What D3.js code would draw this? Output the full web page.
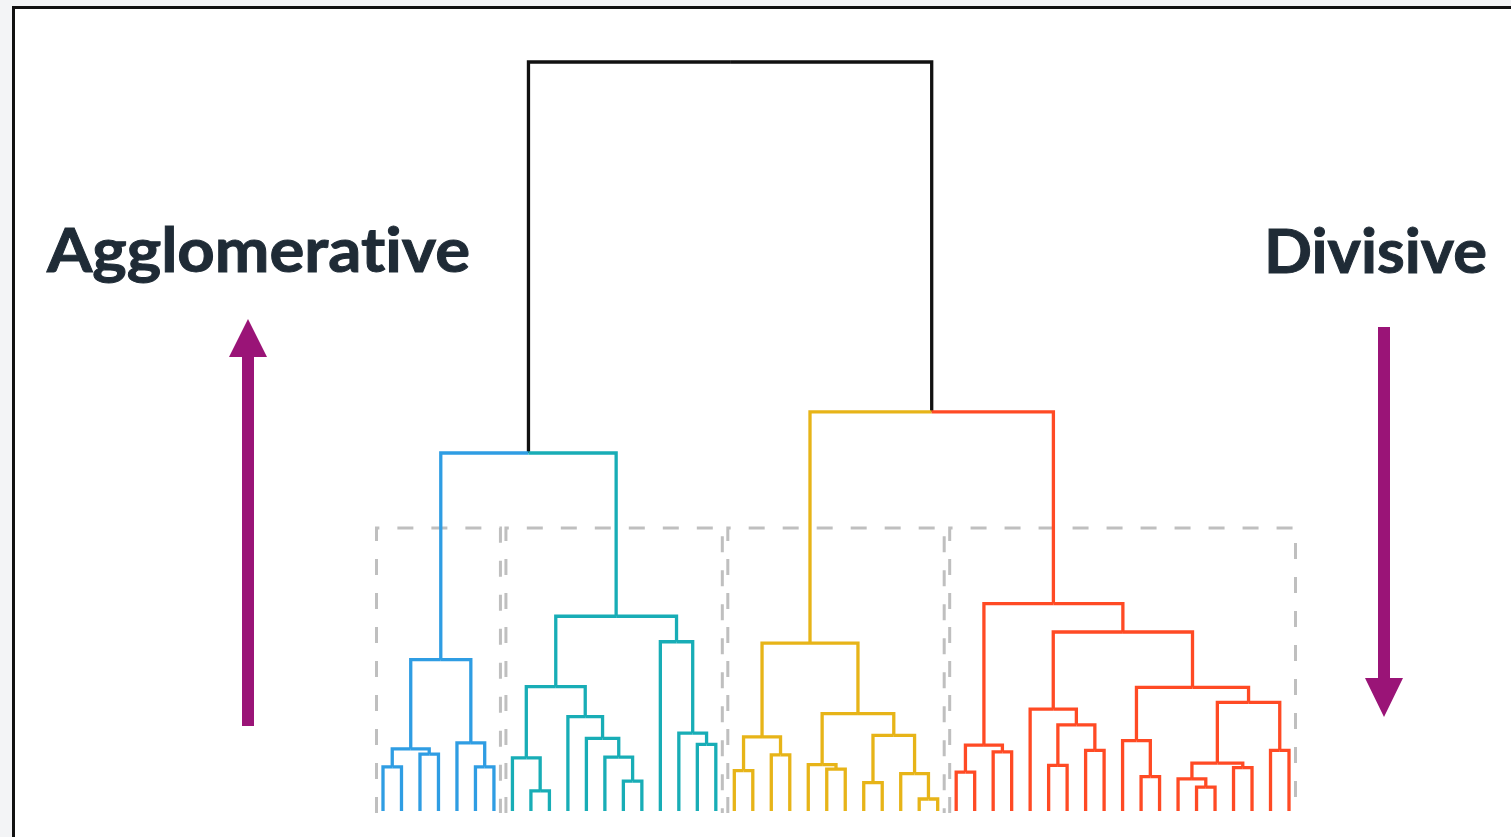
<!DOCTYPE html>
<html>
<head>
<meta charset="utf-8">
<script src="https://cdn.jsdelivr.net/npm/d3@7"></script>
<style>
  html, body { margin: 0; padding: 0; background: #f3f4f6; }
  svg { display: block; }
  text { font-variant-ligatures: none; font-feature-settings: "liga" 0; }
</style>
</head>
<body>
<div id="chart"></div>
<script>
// ---- data -------------------------------------------------------------
// merge node = [height, left, right]; leaf = leaf index (left to right)
var leafCount = 50;

var blueTree = [20.2, [8.3, [5.9, 0, 1], [7.6, 2, 3]], [9.1, 4, [5.9, 5, 6]]];
var tealTree = [26.0,
  [16.6, [7.1, 7, [2.7, 8, 9]], [12.6, 10, [9.7, 11, [7.2, 12, [4.0, 13, 14]]]]],
  [22.6, 15, [10.4, 16, [8.9, 17, 18]]]];
var yellowTree = [22.4,
  [9.9, [5.4, 19, 20], [7.5, 21, 22]],
  [13.0, [6.2, 23, [5.6, 24, 25]], [10.1, [3.8, 26, 27], [5.0, 28, [1.6, 29, 30]]]]];
var redTree = [27.7,
  [8.8, [5.2, 31, 32], [7.9, 33, 34]],
  [23.9,
    [13.6, 35, [11.5, [6.1, 36, 37], [8.1, 38, 39]]],
    [16.5, [9.4, 40, [4.6, 41, 42]],
      [14.5, [6.4, [4.3, 43, [3.2, 44, 45]], [5.8, 46, 47]], [8.1, 48, 49]]]]];

var clusterTrees = [blueTree, tealTree, yellowTree, redTree];
var clusterColors = ["#2f9de3", "#18adb6", "#e7b418", "#ff4a24"];
var upperHeights = [47.8, 53.3];   // blue+teal, yellow+red
var rootHeight = 100;
var cutHeight = 37.8;               // top of the dashed cluster boxes

var labels = ["Agglomerative", "Divisive"];

// ---- layout -----------------------------------------------------------
var width = 1511,
    height = 837,
    linkColor = "#111111",
    arrowColor = "#9a1477",
    textColor = "#1f2b36"
;

var x = d3.scalePoint().domain(d3.range(leafCount)).range([383, 1289]);
var y = d3.scaleLinear().domain([0, rootHeight]).range([811, 62]);

// tag each cluster root with its colour index
clusterTrees.forEach(function (t, i) { t.cluster = i; });

var treeData = [rootHeight,
  [upperHeights[0], clusterTrees[0], clusterTrees[1]],
  [upperHeights[1], clusterTrees[2], clusterTrees[3]]];

var root = d3.hierarchy(treeData, function (d) {
  return Array.isArray(d) ? d.slice(1) : null;
});

root.eachAfter(function (n) {
  if (n.children) {
    n.px = d3.mean(n.children, function (c) { return c.px; });
    n.py = y(n.data[0]);
  } else {
    n.px = x(n.data);
    n.py = y(0);
  }
});

root.each(function (n) {
  if (Array.isArray(n.data) && n.data.cluster !== undefined) n.cluster = n.data.cluster;
  else if (n.parent && n.parent.cluster !== undefined) n.cluster = n.parent.cluster;
});

// ---- drawing ----------------------------------------------------------
var svg = d3.select("#chart")
  .append("svg")
    .attr("width", width)
    .attr("height", height);

// framed white panel
svg.append("rect")
    .attr("x", 13.5)
    .attr("y", 7.5)
    .attr("width", width + 20)
    .attr("height", height + 20)
    .attr("fill", "#ffffff")
    .attr("stroke", "#111")
    .attr("stroke-width", 3);

// dashed cluster boxes (open at the bottom)
var boxes = clusterTrees.map(function (t) {
  var node = root.descendants().filter(function (n) { return n.data === t; })[0];
  var leaves = node.leaves();
  return {
    x0: d3.min(leaves, function (l) { return l.px; }) - 6.5,
    x1: d3.max(leaves, function (l) { return l.px; }) + 6.5
  };
});

svg.append("g")
  .selectAll("path.box")
  .data(boxes)
  .join("path")
    .attr("class", "box")
    .attr("d", function (b) {
      return "M" + b.x0 + "," + (y(0) + 2) + "V" + y(cutHeight) +
             "H" + b.x1 + "V" + (y(0) + 2);
    })
    .attr("fill", "none")
    .attr("stroke", "#bfbfbf")
    .attr("stroke-width", 3)
    .attr("stroke-dasharray", "16,18");

// dendrogram links: child up to parent height, then across to parent
svg.append("g")
  .selectAll("path.link")
  .data(root.descendants().filter(function (n) { return n.parent; }))
  .join("path")
    .attr("class", "link")
    .attr("d", function (n) {
      return "M" + n.px + "," + n.py + "V" + n.parent.py + "H" + n.parent.px;
    })
    .attr("fill", "none")
    .attr("stroke", function (n) {
      return n.cluster !== undefined ? clusterColors[n.cluster] : linkColor;
    })
    .attr("stroke-width", 3.3)
    .attr("stroke-linejoin", "miter");

// labels
var text = svg.append("g")
    .attr("font-family", "Lato, 'Open Sans', sans-serif")
    .attr("font-weight", 700)
    .attr("font-size", 62)
    .attr("fill", textColor)
    .attr("stroke", textColor)
    .attr("stroke-width", 1);

text.append("text")
    .attr("x", 47).attr("y", 272)
    .attr("textLength", 423)
    .attr("lengthAdjust", "spacingAndGlyphs")
    .text(labels[0]);

text.append("text")
    .attr("x", 1264).attr("y", 273)
    .attr("textLength", 223)
    .attr("lengthAdjust", "spacingAndGlyphs")
    .text(labels[1]);

// arrows
function arrow(cx, tail, tip, headLen) {
  var dir = tip < tail ? -1 : 1,
      base = tip - dir * headLen,
      sw = 6, hw = 19;
  return "M" + (cx - sw) + "," + tail + "V" + base + "H" + (cx - hw) +
         "L" + cx + "," + tip + "L" + (cx + hw) + "," + base +
         "H" + (cx + sw) + "V" + tail + "Z";
}

svg.append("path")
    .attr("d", arrow(248, 726, 319, 38))
    .attr("fill", arrowColor);

svg.append("path")
    .attr("d", arrow(1384, 327, 717, 39))
    .attr("fill", arrowColor);
</script>
</body>
</html>
